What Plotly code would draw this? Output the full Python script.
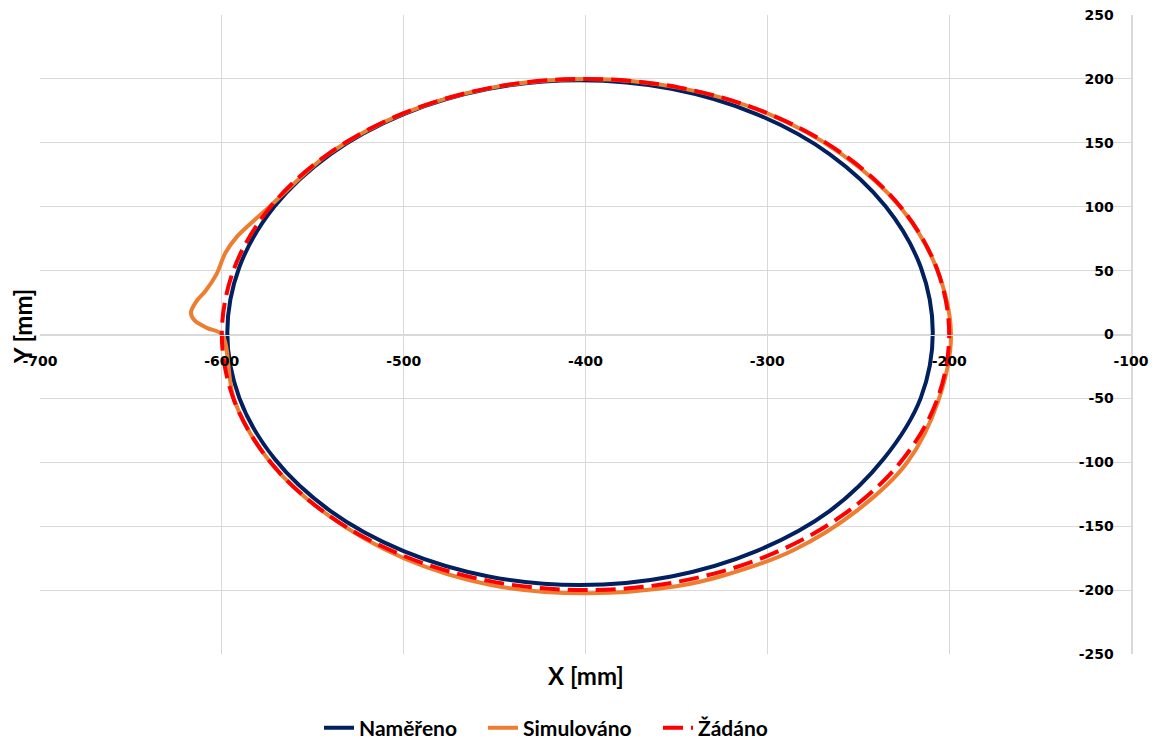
import plotly.graph_objects as go

# Naměřeno (measured)
namereno_x = [-209, -215.6, -235, -265.8, -306, -352.8, -403, -453.2, -500, -540.2, -571, -590.4, -597,
              -590.4, -571, -540.2, -500, -453.2, -403, -352.8, -306, -265.8, -236, -215.6, -209]
namereno_y = [1.5, 52.6, 100.3, 141.2, 172.5, 192.3, 199, 192.3, 172.5, 141.2, 100.3, 52.6, 1.5,
              -49.6, -97.3, -138.2, -169.5, -189.3, -196, -189.3, -169.5, -138.2, -97.3, -49.6, 1.5]

# Simulováno (simulated)
simulovano_x = [-600, -608, -615, -617, -614, -609, -603, -598, -592, -584, -573, -541, -500, -452, -400,
                -348, -300, -259, -227, -207, -199, -206, -223, -250, -286, -325, -350, -400, -452,
                -500, -541, -573, -593, -600]
simulovano_y = [0, 5, 11, 17, 26, 34, 47, 64, 76, 87, 101, 141.5, 173, 193, 200,
                193, 173, 141, 100, 52, 0, -52, -100, -137, -169, -189, -197, -202.5, -196,
                -175, -142, -100.5, -52, 0]

# Žádáno (required)
zadano_x = [-600, -593.2, -573.2, -541.4, -500, -451.8, -400, -348.2, -300, -258.6, -226.8, -206.8, -200,
            -206.8, -226.8, -258.6, -300, -348.2, -400, -451.8, -500, -541.4, -573.2, -593.2, -600]
zadano_y = [0, 51.8, 100, 141.4, 173.2, 193.2, 200, 193.2, 173.2, 141.4, 100, 51.8, 0,
            -51.8, -100, -141.4, -173.2, -193.2, -200, -193.2, -173.2, -141.4, -100, -51.8, 0]

x_ticks = [-700, -600, -500, -400, -300, -200, -100]
y_ticks = [-250, -200, -150, -100, -50, 0, 50, 100, 150, 200, 250]

legend_font = dict(family="Lato", size=21, color="#000000", weight="bold")
title_font = dict(family="Lato", size=24, color="#000000", weight="bold")

fig = go.Figure()
fig.add_trace(go.Scatter(x=namereno_x, y=namereno_y, mode="lines", name="Naměřeno", legend="legend",
                         line=dict(color="#002060", width=4, shape="spline")))
fig.add_trace(go.Scatter(x=simulovano_x, y=simulovano_y, mode="lines", name="Simulováno", legend="legend2",
                         line=dict(color="#ED7D31", width=4, shape="spline")))
fig.add_trace(go.Scatter(x=zadano_x, y=zadano_y, mode="lines", name="Žádáno", legend="legend3",
                         line=dict(color="#FF0000", width=4, shape="spline", dash="20px,8px")))

tickfont = dict(family="DejaVu Sans", size=14, color="#000000", weight="bold")
grid = "#d9d9d9"

FIG_W, FIG_H = 1154, 742

def leg(xpix):
    return dict(orientation="h", x=(xpix - 40) / 1091, xanchor="left",
                yref="container", y=(FIG_H - 720) / FIG_H,
                yanchor="middle", font=legend_font, itemwidth=30, bgcolor="rgba(0,0,0,0)",
                borderwidth=0)

fig.update_layout(
    width=FIG_W, height=FIG_H,
    margin=dict(l=32, r=31, t=7, b=96),
    paper_bgcolor="white", plot_bgcolor="white",
    showlegend=True,
    legend=leg(319),
    legend2=leg(483),
    legend3=leg(658),
    xaxis=dict(range=[-700, -100], tickvals=x_ticks, ticktext=[str(v) for v in x_ticks],
               showgrid=True, gridcolor=grid, gridwidth=1, zeroline=False, automargin=False,
               anchor="free", position=0.5, showline=True, linecolor=grid, linewidth=1,
               ticks="outside", ticklen=14, tickcolor="rgba(0,0,0,0)",
               ticklabeloverflow="allow", tickfont=tickfont),
    yaxis=dict(range=[-250, 250], tickvals=y_ticks, ticktext=[str(v) for v in y_ticks],
               side="right", ticklabelposition="inside", automargin=False,
               showgrid=True, gridcolor=grid, gridwidth=1, zeroline=False,
               showline=True, linecolor=grid, linewidth=2, ticklabeloverflow="allow",
               ticks="", tickfont=tickfont, ticklabelstandoff=17),
    annotations=[
        dict(text="X [mm]", x=(586 - 40) / 1091, y=-(675 - 654) / 639, xref="paper", yref="paper",
             showarrow=False, xanchor="center", yanchor="middle", font=title_font),
        dict(text="Y [mm]", x=-(40 - 22) / 1091, y=(654 - 327) / 639, xref="paper", yref="paper",
             showarrow=False, xanchor="center", yanchor="middle", textangle=-90, font=title_font),
    ],
)

fig.write_html("out.html")
